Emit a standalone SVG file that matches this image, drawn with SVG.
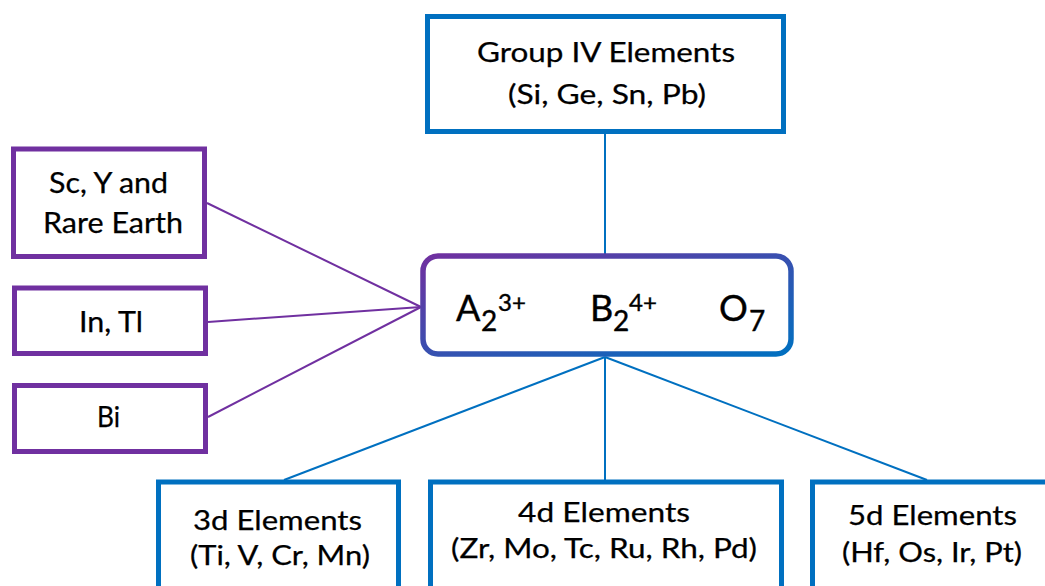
<svg xmlns="http://www.w3.org/2000/svg" width="1045" height="586" viewBox="0 0 1045 586">
<style>
  .pbox{fill:#fff;stroke:#7030A0;stroke-width:5}
  .bbox{fill:#fff;stroke:#0070C0;stroke-width:5}
  .t{font-family:Lato,"Open Sans","Liberation Sans",sans-serif;fill:#000;stroke:#000;stroke-width:0.25;text-anchor:middle}
  .c{font-family:Lato,"Open Sans","Liberation Sans",sans-serif;fill:#000;stroke:#000;stroke-width:0.4}
  .pl{stroke:#7030A0;stroke-width:2;fill:none}
  .bl{stroke:#0070C0;stroke-width:2;fill:none}
</style>
<defs>
  <linearGradient id="g" x1="0" y1="0" x2="1" y2="1">
    <stop offset="0" stop-color="#7030A0"/>
    <stop offset="1" stop-color="#0070C0"/>
  </linearGradient>
</defs>
<g id="connectors">
  <line class="pl" x1="207" y1="203" x2="421" y2="307"/>
  <line class="pl" x1="208" y1="322" x2="421" y2="307"/>
  <line class="pl" x1="208" y1="417" x2="421" y2="307"/>
  <line class="bl" x1="605" y1="134" x2="605" y2="254" stroke-width="1.5"/>
  <line class="bl" x1="605" y1="357" x2="605" y2="480" stroke-width="1.5"/>
  <line class="bl" x1="605" y1="357" x2="284" y2="480"/>
  <line class="bl" x1="605" y1="357" x2="927" y2="480"/>
</g>
<g id="group4">
  <rect class="bbox" x="427.5" y="16.5" width="356" height="115"/>
  <text class="t" x="606" y="62" font-size="26" textLength="258" lengthAdjust="spacingAndGlyphs">Group IV Elements</text>
  <text class="t" x="607" y="104" font-size="26" textLength="198" lengthAdjust="spacingAndGlyphs">(Si, Ge, Sn, Pb)</text>
</g>
<g id="sc">
  <rect class="pbox" x="13.5" y="149" width="191" height="107.5"/>
  <text class="t" x="108.5" y="193" font-size="28" textLength="119" lengthAdjust="spacingAndGlyphs">Sc, Y and</text>
  <text class="t" x="113" y="233" font-size="28" textLength="140" lengthAdjust="spacingAndGlyphs">Rare Earth</text>
</g>
<g id="intl">
  <rect class="pbox" x="14.5" y="288" width="191" height="65.5"/>
  <text class="t" x="111" y="332" font-size="28" textLength="64" lengthAdjust="spacingAndGlyphs">In, Tl</text>
</g>
<g id="bi">
  <rect class="pbox" x="14.5" y="385.5" width="191" height="66"/>
  <text class="t" x="108.5" y="427" font-size="28" textLength="23" lengthAdjust="spacingAndGlyphs">Bi</text>
</g>
<g id="center">
  <rect x="423" y="256" width="368" height="98" rx="15" ry="15" fill="#fff" stroke="url(#g)" stroke-width="5.5"/>
  <text class="c" x="456" y="321" font-size="36">A</text>
  <text class="c" x="481" y="331" font-size="28">2</text>
  <text class="c" x="498" y="311" font-size="24">3+</text>
  <text class="c" x="590" y="321" font-size="36">B</text>
  <text class="c" x="613" y="331" font-size="28">2</text>
  <text class="c" x="629" y="311" font-size="24">4+</text>
  <text class="c" x="719" y="321" font-size="36">O</text>
  <text class="c" x="749" y="331" font-size="28">7</text>
</g>
<g id="d3">
  <rect class="bbox" x="158.5" y="482" width="240" height="130"/>
  <text class="t" x="277.5" y="530" font-size="27" textLength="169" lengthAdjust="spacingAndGlyphs">3d Elements</text>
  <text class="t" x="280" y="565" font-size="27" textLength="180" lengthAdjust="spacingAndGlyphs">(Ti, V, Cr, Mn)</text>
</g>
<g id="d4">
  <rect class="bbox" x="430.5" y="482" width="351" height="130"/>
  <text class="t" x="604" y="522" font-size="27" textLength="172" lengthAdjust="spacingAndGlyphs">4d Elements</text>
  <text class="t" x="604" y="558" font-size="27" textLength="306" lengthAdjust="spacingAndGlyphs">(Zr, Mo, Tc, Ru, Rh, Pd)</text>
</g>
<g id="d5">
  <rect class="bbox" x="812.5" y="482" width="260" height="130"/>
  <text class="t" x="932.5" y="525" font-size="27" textLength="169" lengthAdjust="spacingAndGlyphs">5d Elements</text>
  <text class="t" x="932" y="562" font-size="27" textLength="180" lengthAdjust="spacingAndGlyphs">(Hf, Os, Ir, Pt)</text>
</g>
</svg>
